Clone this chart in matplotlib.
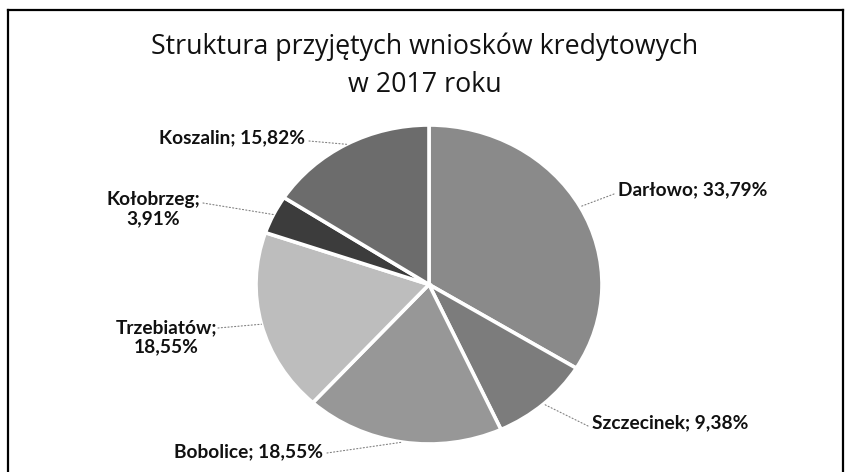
import matplotlib
matplotlib.use("Agg")
import matplotlib.pyplot as plt
import numpy as np
from matplotlib.lines import Line2D

categories = ["Darłowo", "Szczecinek", "Bobolice", "Trzebiatów", "Kołobrzeg", "Koszalin"]
values = [33.79, 9.38, 18.55, 18.55, 3.91, 15.82]
label_texts = ["Darłowo; 33,79%", "Szczecinek; 9,38%", "Bobolice; 18,55%",
               "Trzebiatów;\n18,55%", "Kołobrzeg;\n3,91%", "Koszalin; 15,82%"]
colors = ["#8a8a8a", "#7c7c7c", "#979797", "#bdbdbd", "#3c3c3c", "#6c6c6c"]
title = "Struktura przyjętych wniosków kredytowych\nw 2017 roku"

W, H = 846, 472
fig = plt.figure(figsize=(W / 100, H / 100), dpi=100)
fig.patch.set_facecolor("white")

# pie axes (elliptical as in the scan)
cx, cy, rx, ry = 429, 284.5, 173, 159.5
ax = fig.add_axes([(cx - rx) / W, (H - cy - ry) / H, 2 * rx / W, 2 * ry / H])
wedges, _ = ax.pie(values, colors=colors, startangle=90, counterclock=False,
                   wedgeprops=dict(edgecolor="white", linewidth=2.6))
ax.set_aspect("auto")
ax.set_xlim(-1, 1)
ax.set_ylim(-1, 1)
ax.axis("off")

# label layout: (text x, text y, ha, leader start x, leader start y) in pixels from top-left
layout = {
    "Darłowo": (618, 190, "left", 614, 194),
    "Szczecinek": (592, 423, "left", 588, 426),
    "Bobolice": (323, 452, "right", 327, 453),
    "Trzebiatów": (166, 337, "center", 218, 328),
    "Kołobrzeg": (153, 209, "center", 203, 203),
    "Koszalin": (305, 138, "right", 309, 141),
}

fontfam = ["Lato", "DejaVu Sans"]
for w, cat, txt in zip(wedges, categories, label_texts):
    ang = np.deg2rad((w.theta1 + w.theta2) / 2)
    px, py = np.cos(ang), np.sin(ang)
    tx, ty, ha, lx, ly = layout[cat]
    fig.text(tx / W, 1 - ty / H, txt, ha=ha, va="center", fontsize=13.8,
             fontweight="bold", family=fontfam, color="#111111", linespacing=1.12)
    ax.annotate("", xy=(px, py), xycoords="data",
                xytext=(lx, H - ly), textcoords="figure pixels",
                arrowprops=dict(arrowstyle="-", color="#808080", lw=0.8,
                                linestyle=(0, (1, 2)), shrinkA=0, shrinkB=0))

fig.text(425 / W, 1 - 66 / H, title, ha="center", va="center", fontsize=19.3,
         family=["Open Sans", "DejaVu Sans"], color="#111111", linespacing=1.5)

# outer frame
frame_kw = dict(color="black", lw=1.6, transform=fig.transFigure)
fig.add_artist(Line2D([8 / W, 8 / W], [0, 1 - 10 / H], **frame_kw))
fig.add_artist(Line2D([8 / W, 843 / W], [1 - 10 / H, 1 - 10 / H], **frame_kw))
fig.add_artist(Line2D([843 / W, 843 / W], [0, 1 - 10 / H], **frame_kw))

fig.savefig("out.png", dpi=100)
